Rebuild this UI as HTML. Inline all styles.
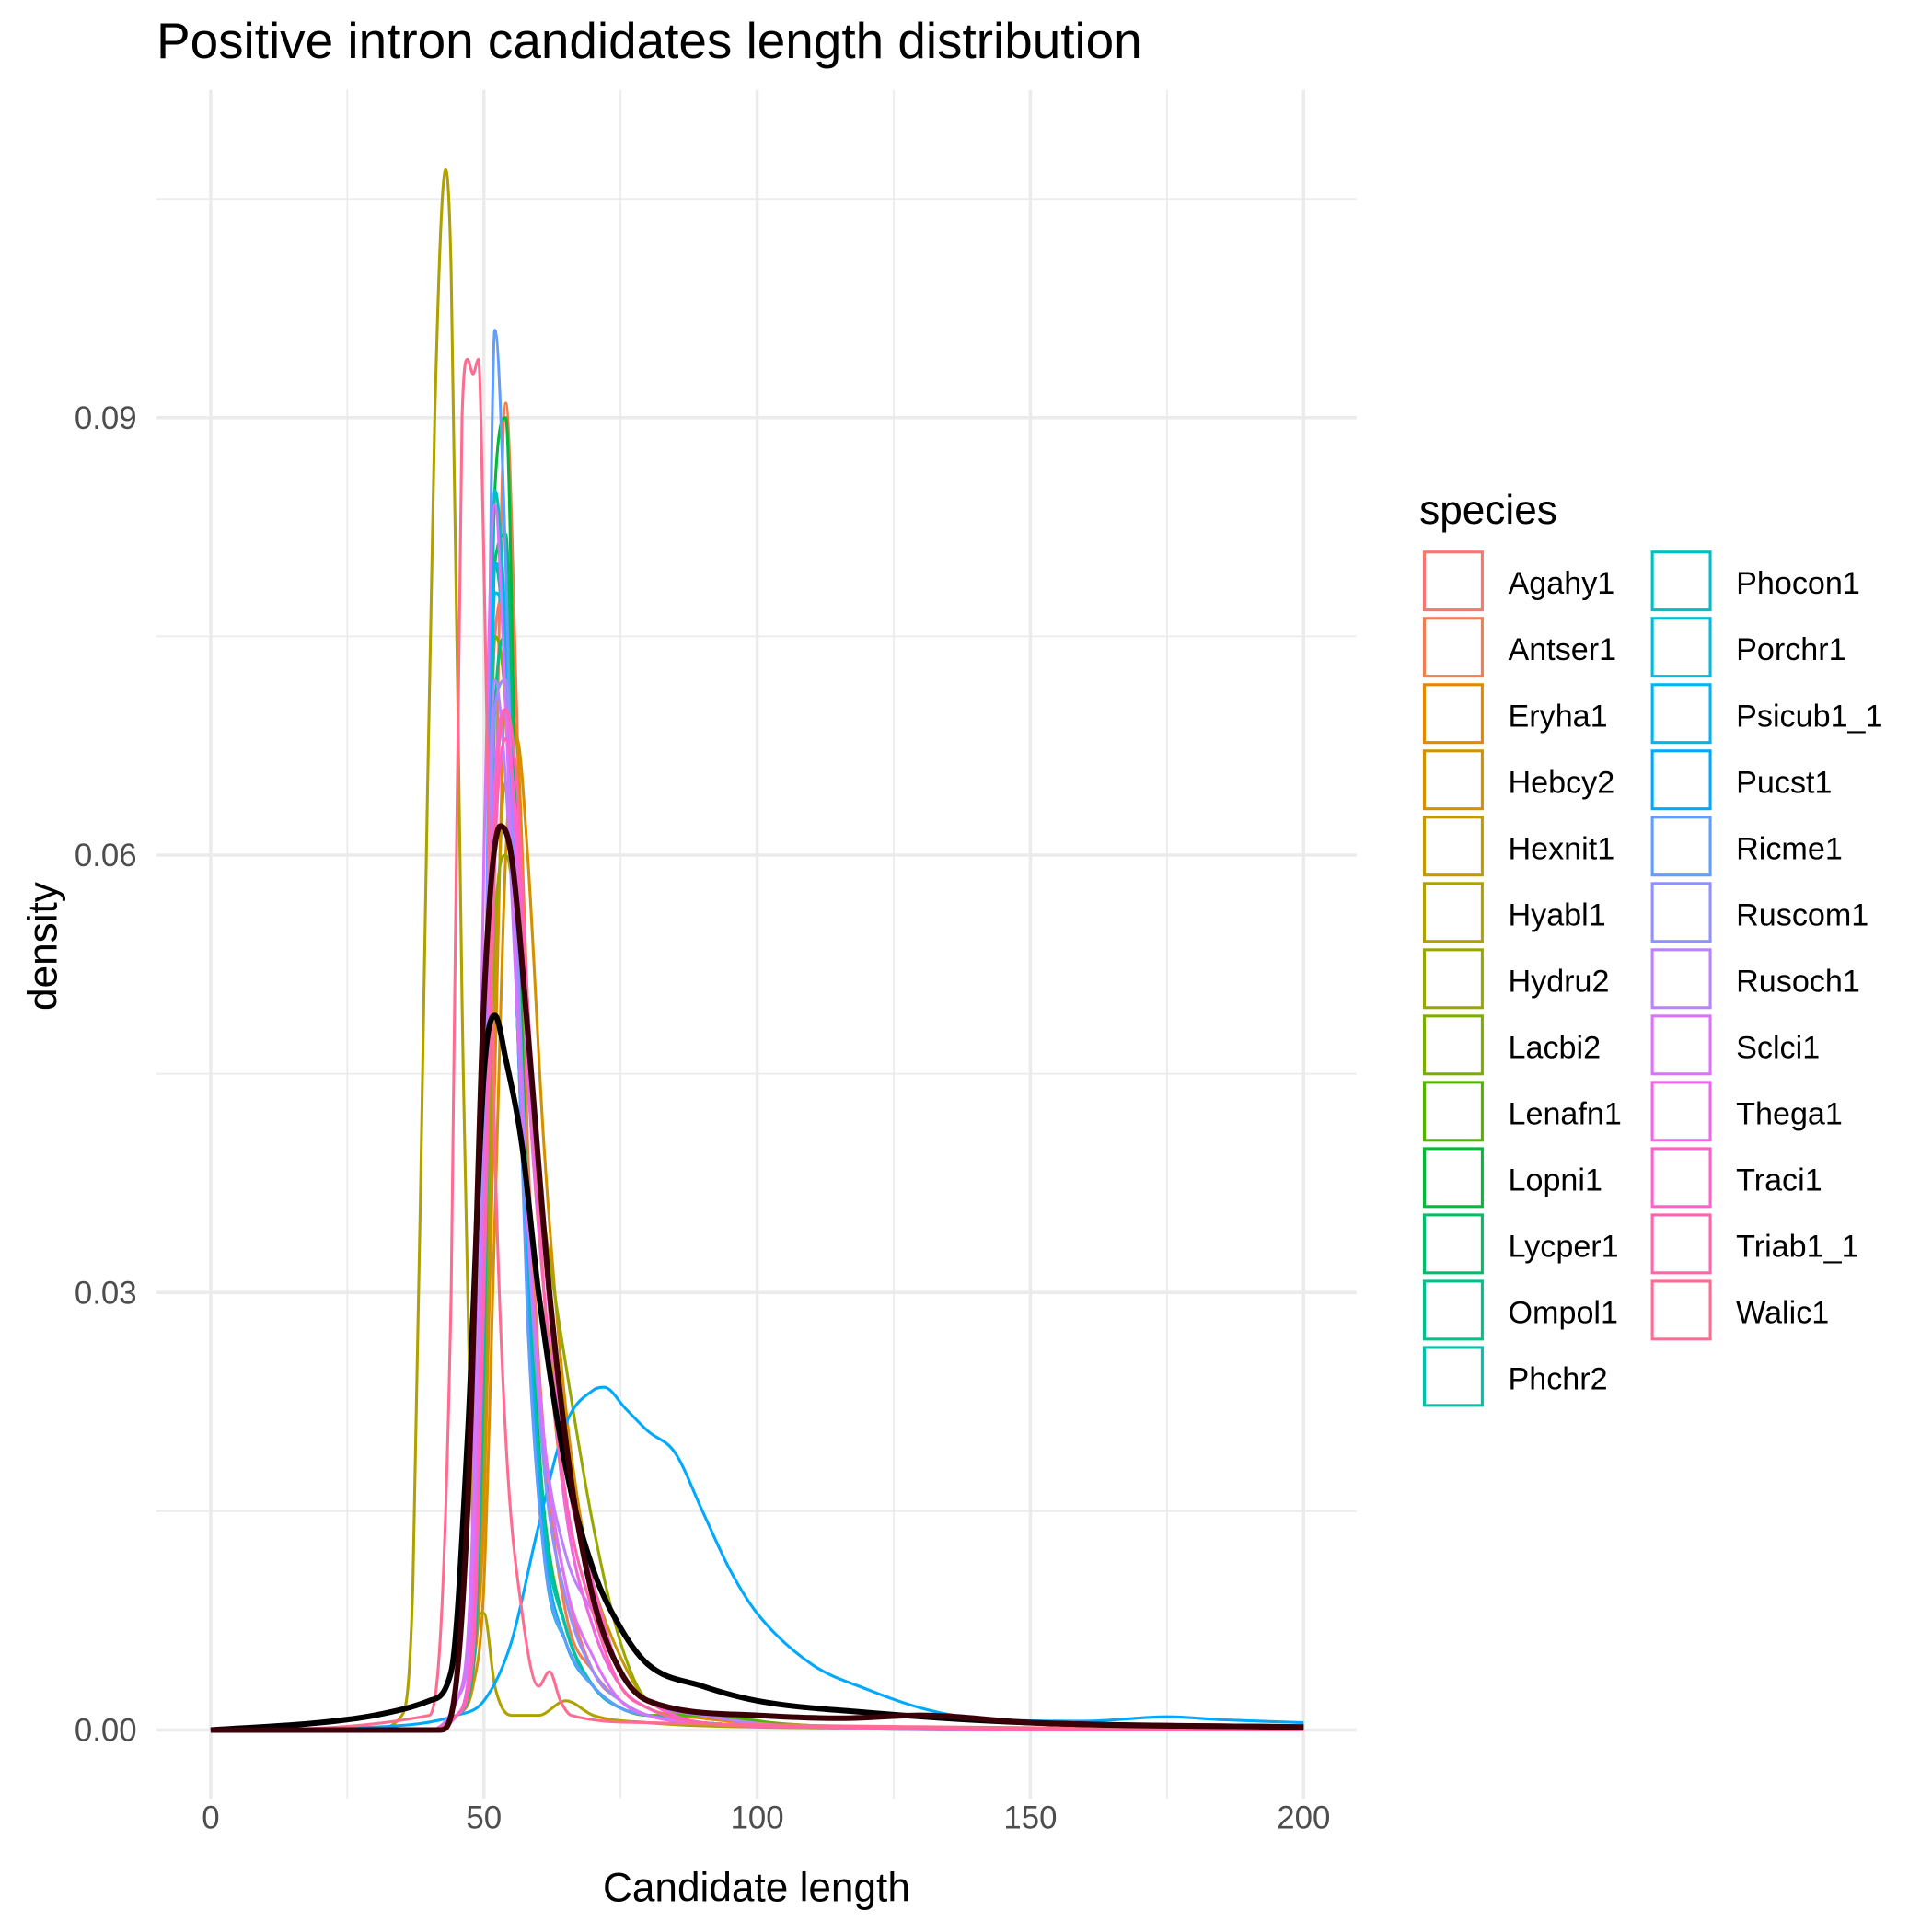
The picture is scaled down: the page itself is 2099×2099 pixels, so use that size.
<!DOCTYPE html>
<html><head><meta charset="utf-8"><style>
html,body{margin:0;padding:0;background:#fff}
svg{display:block}
text{font-family:"Liberation Sans",Arial,sans-serif}
</style></head><body>
<svg id="chart" width="2099" height="2099" viewBox="0 0 1568 1568" xmlns="http://www.w3.org/2000/svg">
<g id="grid"></g>
<g id="series"></g>
<g id="axes"></g>
<g id="legend"></g>
<text x="127" y="47" font-size="41" fill="#000">Positive intron candidates length distribution</text>
<text x="614" y="1543" font-size="33" text-anchor="middle" fill="#000">Candidate length</text>
<text transform="translate(46,768) rotate(-90)" font-size="33" text-anchor="middle" fill="#000">density</text>
</svg>
<script>
const xTicks=[0,50,100,150,200];
const xMinor=[25,75,125,175];
const yTicks=[0,0.03,0.06,0.09];
const yTickLabels=["0.00","0.03","0.06","0.09"];
const yMinor=[0.015,0.045,0.075,0.105];
const species=["Agahy1","Antser1","Eryha1","Hebcy2","Hexnit1","Hyabl1","Hydru2","Lacbi2","Lenafn1","Lopni1","Lycper1","Ompol1","Phchr2","Phocon1","Porchr1","Psicub1_1","Pucst1","Ricme1","Ruscom1","Rusoch1","Sclci1","Thega1","Traci1","Triab1_1","Walic1"];
const colors=["#F8766D","#F07E4E","#E58700","#D59000","#C49A00","#AFA100","#99A800","#7CAE00","#53B400","#00BA38","#00BE67","#00C08B","#00C1A9","#00BFC4","#00BBDC","#00B4F0","#00A9FF","#619CFF","#8F91FF","#B983FF","#DB72FB","#F066EA","#FF61C9","#FF65AC","#FF6C91"];
const gx=[0,40,45,48,50,52,54,56,58,61,65,70,75,80,90,110,150,200];
const gy={
Agahy1:[0,0,0.002,0.01,0.04,0.075,0.078,0.06,0.04,0.02,0.01,0.004,0.002,0.001,0.0005,0.0002,0.0001,0],
Antser1:[0,0,0.001,0.005,0.02,0.06,0.091,0.07,0.04,0.02,0.008,0.004,0.002,0.001,0.0005,0.0002,0,0],
Eryha1:[0,0,0.001,0.004,0.015,0.045,0.07,0.068,0.05,0.03,0.015,0.007,0.003,0.0015,0.0008,0.0003,0,0],
Hebcy2:[0,0,0.001,0.003,0.01,0.035,0.06,0.068,0.06,0.04,0.022,0.01,0.004,0.002,0.001,0.0003,0,0],
Hexnit1:[0,0,0.001,0.004,0.02,0.05,0.065,0.06,0.045,0.03,0.018,0.01,0.005,0.002,0.001,0.0003,0,0],
Hydru2:[0,0,0.001,0.005,0.02,0.055,0.06,0.055,0.045,0.035,0.025,0.014,0.006,0.002,0.001,0.0003,0,0],
Lacbi2:[0,0,0.001,0.006,0.03,0.075,0.07,0.05,0.03,0.015,0.007,0.003,0.0015,0.001,0.0005,0.0002,0,0],
Lenafn1:[0,0,0.001,0.006,0.03,0.08,0.075,0.05,0.03,0.015,0.007,0.003,0.0015,0.001,0.001,0.0002,0,0],
Lopni1:[0,0,0.001,0.005,0.03,0.085,0.09,0.06,0.035,0.015,0.007,0.003,0.0015,0.001,0.0005,0.0002,0,0],
Lycper1:[0,0,0.001,0.005,0.028,0.08,0.082,0.055,0.03,0.013,0.006,0.003,0.0015,0.001,0.0005,0.0002,0,0],
Ompol1:[0,0,0.001,0.004,0.025,0.07,0.075,0.055,0.032,0.015,0.007,0.003,0.0015,0.001,0.0005,0.0002,0,0],
Phchr2:[0,0,0.001,0.005,0.03,0.08,0.072,0.05,0.03,0.014,0.007,0.003,0.0015,0.001,0.0005,0.0002,0,0],
Phocon1:[0,0,0.001,0.006,0.032,0.085,0.075,0.05,0.03,0.012,0.006,0.003,0.0015,0.001,0.0005,0.0002,0,0],
Porchr1:[0,0,0.001,0.005,0.03,0.078,0.074,0.05,0.03,0.013,0.006,0.003,0.0015,0.001,0.0005,0.0002,0,0],
Psicub1_1:[0,0,0.001,0.005,0.03,0.08,0.076,0.05,0.03,0.013,0.006,0.003,0.0015,0.001,0.0005,0.0002,0,0],
Ricme1:[0,0,0.001,0.006,0.04,0.096,0.08,0.05,0.028,0.012,0.006,0.003,0.0015,0.001,0.0005,0.0002,0,0],
Ruscom1:[0,0,0.001,0.006,0.035,0.07,0.072,0.055,0.035,0.018,0.009,0.004,0.002,0.001,0.0005,0.0002,0,0],
Rusoch1:[0,0,0.002,0.01,0.045,0.072,0.065,0.05,0.035,0.02,0.012,0.008,0.004,0.002,0.001,0.0002,0,0],
Sclci1:[0,0,0.002,0.015,0.06,0.084,0.07,0.05,0.035,0.02,0.01,0.005,0.002,0.001,0.0005,0.0002,0,0],
Thega1:[0,0,0.001,0.008,0.035,0.065,0.07,0.06,0.045,0.03,0.015,0.007,0.003,0.0015,0.0005,0.0002,0,0],
Traci1:[0,0,0.001,0.006,0.03,0.06,0.068,0.062,0.05,0.033,0.018,0.01,0.004,0.002,0.0005,0.0002,0,0],
Triab1_1:[0,0,0.001,0.005,0.03,0.062,0.07,0.065,0.05,0.03,0.016,0.008,0.003,0.0015,0.0005,0.0002,0,0]
};
const hyablX=[0,30,35,37,39,41,43,44,46,48,49,50,52,55,60,65,70,80,100,200];
const hyablY=[0,0.0001,0.001,0.01,0.05,0.09,0.107,0.1,0.05,0.012,0.008,0.008,0.003,0.001,0.001,0.002,0.001,0.0005,0.0002,0];
const walicX=[0,40,44,46,47,48,49,50,52,54,57,60,62,64,66,80,200];
const walicY=[0,0.001,0.03,0.09,0.094,0.093,0.094,0.08,0.04,0.02,0.008,0.003,0.004,0.002,0.001,0.0005,0];
const pucstX=[0,30,45,50,55,60,65,70,72,76,80,85,90,95,100,110,120,130,140,160,175,185,200];
const pucstY=[0,0.0002,0.001,0.002,0.006,0.014,0.021,0.0233,0.0235,0.022,0.0205,0.019,0.015,0.011,0.008,0.0045,0.0028,0.0015,0.0008,0.0006,0.0009,0.0007,0.0005];
const allX=[0,20,30,40,44,47,50,52,54,57,60,65,70,75,80,90,100,120,150,200];
const allY=[0,0.0005,0.001,0.002,0.004,0.02,0.045,0.049,0.046,0.04,0.03,0.018,0.011,0.007,0.0045,0.003,0.002,0.0012,0.0005,0.0002];
const meanX=[0,42,44,47,50,53,55,58,62,66,70,75,80,100,115,130,150,200];
const meanY=[0,0,0.001,0.015,0.05,0.062,0.06,0.048,0.03,0.017,0.009,0.004,0.002,0.001,0.0008,0.001,0.0005,0.0002];

const NS="http://www.w3.org/2000/svg";
const X0=127,X1=1101,Y0=73,Y1=1460;
const sx=v=>171+(v-0)*(1058-171)/200;
const sy=v=>1404-v*(1404-339)/0.09;
function mk(tag,attrs,parent){const e=document.createElementNS(NS,tag);for(const k in attrs)e.setAttribute(k,attrs[k]);parent.appendChild(e);return e;}
const grid=document.getElementById('grid');
yMinor.forEach(v=>{const l=mk('line',{x1:X0,x2:X1,y1:sy(v),y2:sy(v),stroke:'#EBEBEB','stroke-width':1.3},grid);

});
xMinor.forEach(v=>{const l=mk('line',{x1:sx(v),x2:sx(v),y1:Y0,y2:Y1,stroke:'#EBEBEB','stroke-width':1.3},grid);

});
yTicks.forEach(v=>{const l=mk('line',{x1:X0,x2:X1,y1:sy(v),y2:sy(v),stroke:'#EBEBEB','stroke-width':2.6},grid);

});
xTicks.forEach(v=>{const l=mk('line',{x1:sx(v),x2:sx(v),y1:Y0,y2:Y1,stroke:'#EBEBEB','stroke-width':2.6},grid);

});
const axes=document.getElementById('axes');
xTicks.forEach(v=>{const t=mk('text',{x:sx(v),y:1484,'font-size':26,'text-anchor':'middle',fill:'#4D4D4D'},axes);t.textContent=v;

});
yTicks.forEach((v,i)=>{const t=mk('text',{x:111,y:sy(v)+9,'font-size':26,'text-anchor':'end',fill:'#4D4D4D'},axes);t.textContent=yTickLabels[i];

});

function monotonePath(xs,ys){
  const px=xs.map(sx),py=ys.map(sy),n=px.length;
  const d=[],m=new Array(n);
  for(let i=0;i<n-1;i++)d.push((py[i+1]-py[i])/(px[i+1]-px[i]));
  m[0]=d[0];m[n-1]=d[n-2];
  for(let i=1;i<n-1;i++){m[i]=(d[i-1]*d[i]<=0)?0:(d[i-1]+d[i])/2;}
  for(let i=0;i<n-1;i++){if(d[i]===0){m[i]=0;m[i+1]=0;continue;}
    const a=m[i]/d[i],b=m[i+1]/d[i],s=a*a+b*b;if(s>9){const t=3/Math.sqrt(s);m[i]=t*a*d[i];m[i+1]=t*b*d[i];}}
  let p=`M${px[0]},${py[0]}`;
  for(let i=0;i<n-1;i++){const h=(px[i+1]-px[i])/3;
    p+=`C${px[i]+h},${py[i]+m[i]*h} ${px[i+1]-h},${py[i+1]-m[i+1]*h} ${px[i+1]},${py[i+1]}`;}
  return p;
}
const sg=document.getElementById('series');
species.forEach((s,i)=>{
  let xs=gx,ys=gy[s];
  if(s==="Hyabl1"){xs=hyablX;ys=hyablY;}
  if(s==="Walic1"){xs=walicX;ys=walicY;}
  if(s==="Pucst1"){xs=pucstX;ys=pucstY;}
  const p=mk('path',{d:monotonePath(xs,ys),fill:'none',stroke:colors[i],'stroke-width':2.3},sg);
  
  
});
const pa=mk('path',{d:monotonePath(allX,allY),fill:'none',stroke:'#000','stroke-width':4.5},sg);


const pm=mk('path',{d:monotonePath(meanX,meanY),fill:'none',stroke:'#3a0008','stroke-width':4.5},sg);



const lg=document.getElementById('legend');
const lt=mk('text',{x:1152,y:425,'font-size':33,fill:'#000'},lg);lt.textContent='species';


species.forEach((s,i)=>{
  const col=i<13?0:1,row=i<13?i:i-13;
  const kx=col?1340:1155,ky=447+row*53.8;
  const g=mk('g',{},lg);
  
  
  mk('rect',{x:kx+1,y:ky+1,width:47,height:47,fill:'none',stroke:colors[i],'stroke-width':2.3},g);
  const t=mk('text',{x:kx+69,y:ky+35,'font-size':25.5,fill:'#000'},g);t.textContent=s;
});
</script>
</body></html>
